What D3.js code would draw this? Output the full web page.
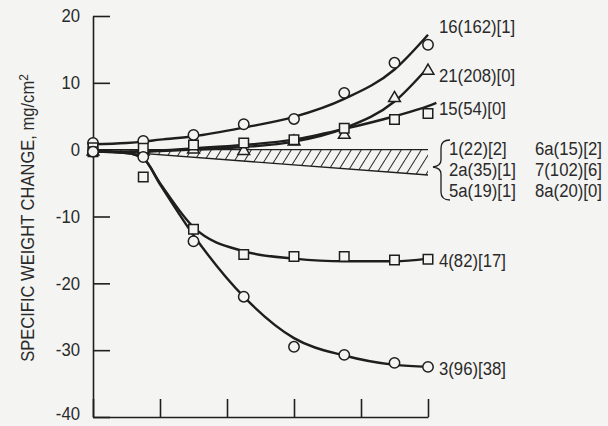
<!DOCTYPE html>
<html>
<head>
<meta charset="utf-8">
<script src="https://cdn.jsdelivr.net/npm/d3@7"></script>
<style>
  body { margin: 0; background: #f4f4f2; }
  text { font-family: "Liberation Sans Narrow", "Liberation Sans", sans-serif; fill: #2a2a2a; }
</style>
</head>
<body>
<div id="chart"></div>
<script>
// test times (x), no labels on the x axis in the original
var pointX = [0, 150, 300, 450, 600, 750, 900, 1000];
var xTicks = [0, 200, 400, 600, 800, 1000];
var yTicks = [20, 10, 0, -10, -20, -30, -40];

// measured points
var pts16 = [1.0, 1.3, 2.2, 3.8, 4.6, 8.5, 13.0, 15.7];
var pts21 = [-0.3, -0.3, 0.0, -0.2, 1.2, 2.2, 7.7, 11.8];
var pts15 = [0.3, 0.2, 0.7, 1.0, 1.5, 3.2, 4.5, 5.4];
var pts4 = [-0.3, -4.1, -11.9, -15.7, -16.0, -16.0, -16.5, -16.4];
var pts3 = [-0.3, -1.1, -13.7, -22.0, -29.5, -30.7, -31.9, -32.5];

// faired curves
var fitX = [0, 100, 150, 200, 300, 450, 600, 750, 900, 1000, 1025];
var fit16 = [0.8, 1.0, 1.2, 1.5, 2.0, 3.3, 4.9, 7.6, 12.0, 17.2, null];
var fit21 = [-0.3, -0.3, -0.3, -0.2, 0.0, 0.4, 1.2, 3.2, 7.2, 12.3, null];
var fit15 = [-0.3, -0.3, -0.2, -0.1, 0.2, 0.7, 1.5, 3.1, 5.0, 6.5, 7.0];
var fit4 = [-0.3, -0.5, -1.3, -5.0, -11.6, -15.2, -16.3, -16.7, -16.7, -16.3, null];
var fit3 = [-0.3, -0.5, -1.3, -5.2, -12.8, -22.0, -28.2, -30.8, -32.2, -32.5, null];

// scatter band for the low-change specimens
var bandX = [0, 1000];
var bandTop = [0, 0];
var bandBottom = [0, -3.8];

var seriesLabels = ["16(162)[1]", "21(208)[0]", "15(54)[0]", "4(82)[17]", "3(96)[38]"];
var bandLabels = [["1(22)[2]", "6a(15)[2]"], ["2a(35)[1]", "7(102)[6]"], ["5a(19)[1]", "8a(20)[0]"]];

var width = 608, height = 426;
var ink = "#1e1e1e";
var squeeze = 0.88;

var svg = d3.select("#chart").append("svg")
    .attr("width", width)
    .attr("height", height);

var x = d3.scaleLinear().domain([0, 1000]).range([93, 428]);
var y = d3.scaleLinear().domain([-40, 20]).range([417, 16]);

// narrow label helper
function label(tx, ty, str) {
    return svg.append("text")
        .attr("transform", "translate(" + tx + "," + ty + ") scale(" + squeeze + ",1)")
        .style("font-size", "19px")
        .text(str);
}

// hatch pattern
svg.append("defs").append("pattern")
    .attr("id", "hatch")
    .attr("patternUnits", "userSpaceOnUse")
    .attr("width", 10).attr("height", 16)
    .append("path")
    .attr("d", "M-5,16L5,0M5,16L15,0")
    .attr("stroke", "#333").attr("stroke-width", 1.1);

// axes
var yAxis = d3.axisLeft(y).tickValues(yTicks).tickSizeInner(-17).tickSizeOuter(0).tickPadding(12)
    .tickFormat(function (d) { return d < 0 ? "-" + (-d) : d; });
var gy = svg.append("g").attr("transform", "translate(93,0)").call(yAxis);
gy.selectAll("text")
    .style("font-size", "19px")
    .attr("dy", function (d) { return d === -40 ? "0.15em" : "0.3em"; })
    .attr("transform", "scale(" + squeeze + ",1)")
    .attr("x", -13 / squeeze);

var xAxis = d3.axisBottom(x).tickValues(xTicks).tickSizeInner(-18).tickSizeOuter(0).tickFormat("");
svg.append("g").attr("transform", "translate(0,417)").call(xAxis);

svg.selectAll(".domain, .tick line").attr("stroke", ink).attr("stroke-width", 1.6);

var title = svg.append("text")
    .attr("transform", "translate(34,218) rotate(-90) scale(0.92,1)")
    .attr("text-anchor", "middle")
    .style("font-size", "18px")
    .text("SPECIFIC WEIGHT CHANGE,  mg/cm");
title.append("tspan").attr("dy", "-0.5em").style("font-size", "13px").text("2");

// hatched band
var band = bandX.map(function (d, i) { return [d, bandTop[i], bandBottom[i]]; });
svg.append("path")
    .datum(band)
    .attr("fill", "url(#hatch)")
    .attr("d", d3.area().x(function (d) { return x(d[0]); }).y0(function (d) { return y(d[1]); }).y1(function (d) { return y(d[2]); }));
[bandTop, bandBottom].forEach(function (edge) {
    svg.append("path")
        .datum(bandX.map(function (d, i) { return [d, edge[i]]; }))
        .attr("fill", "none").attr("stroke", ink).attr("stroke-width", 1.4)
        .attr("d", d3.line().x(function (d) { return x(d[0]); }).y(function (d) { return y(d[1]); }));
});

// faired curves
var line = d3.line()
    .defined(function (d) { return d[1] != null; })
    .x(function (d) { return x(d[0]); })
    .y(function (d) { return y(d[1]); })
    .curve(d3.curveMonotoneX);

[fit16, fit21, fit15, fit4, fit3].forEach(function (f) {
    svg.append("path")
        .datum(fitX.map(function (d, i) { return [d, f[i]]; }))
        .attr("fill", "none").attr("stroke", ink).attr("stroke-width", 2.4)
        .attr("d", line);
});

// symbols
var sets = [
    {vals: pts16, sym: d3.symbolCircle, size: 85},
    {vals: pts21, sym: d3.symbolTriangle, size: 60},
    {vals: pts15, sym: d3.symbolSquare, size: 90},
    {vals: pts4, sym: d3.symbolSquare, size: 90},
    {vals: pts3, sym: d3.symbolCircle, size: 85}
];
sets.forEach(function (s) {
    svg.append("g").selectAll("path")
        .data(s.vals.map(function (v, i) { return [pointX[i], v]; }))
        .enter().append("path")
        .attr("transform", function (d) { return "translate(" + x(d[0]) + "," + y(d[1]) + ")"; })
        .attr("d", d3.symbol().type(s.sym).size(s.size))
        .attr("fill", "#f4f4f2").attr("stroke", ink).attr("stroke-width", 1.5);
});

// curve labels
var labelY = [33, 82, 115, 267, 375];
seriesLabels.forEach(function (d, i) { label(439, labelY[i], d); });

// band legend with brace
var rowY = [155, 176, 197];
bandLabels.forEach(function (row, i) {
    label(449, rowY[i], row[0]);
    label(535, rowY[i], row[1]);
});
svg.append("path")
    .attr("d", "M450,140 Q441,140 441,148 L441,160 Q441,166 433,167 Q441,168 441,174 L441,192 Q441,200 450,200")
    .attr("fill", "none").attr("stroke", ink).attr("stroke-width", 1.3);
</script>
</body>
</html>
